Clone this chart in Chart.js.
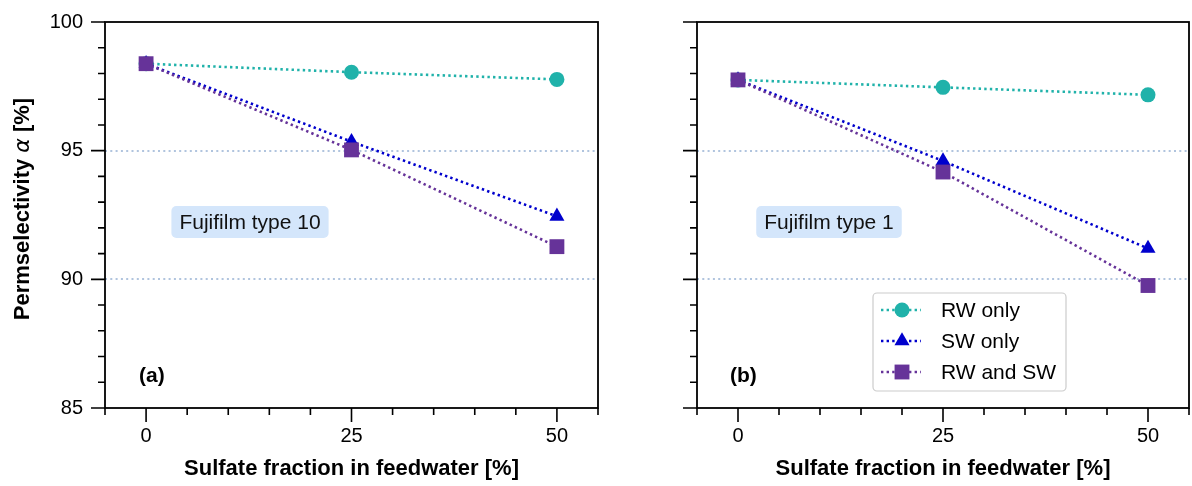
<!DOCTYPE html>
<html>
<head>
<meta charset="utf-8">
<script src="https://cdn.jsdelivr.net/npm/chart.js@4.4.1/dist/chart.umd.min.js"></script>
<style>
  html, body { margin: 0; padding: 0; background: #fff; }
  #wrap { position: relative; width: 1192px; height: 486px; }
  canvas { position: absolute; top: 0; }
  #chartA { left: 0; }
  #chartB { left: 600px; }
</style>
</head>
<body>
<div id="wrap">
  <canvas id="chartA" width="600" height="486"></canvas>
  <canvas id="chartB" width="592" height="486"></canvas>
</div>
<script>
// data
const sulfateFraction = [0, 25, 50];
const xTickLabels = [0, 25, 50];
const yTickLabels = [85, 90, 95, 100];
const refLines = [90, 95];
const seriesNames = ['RW only', 'SW only', 'RW and SW'];

// (a) Fujifilm type 10
const type10RwOnly = [98.38, 98.05, 97.77];
const type10SwOnly = [98.38, 95.35, 92.45];
const type10RwSw = [98.38, 95.03, 91.27];

// (b) Fujifilm type 1
const type1RwOnly = [97.75, 97.46, 97.17];
const type1SwOnly = [97.75, 94.6, 91.2];
const type1RwSw = [97.75, 94.17, 89.76];

const FONT = '"Liberation Sans", Arial, sans-serif';
const colors = ['#20b2aa', '#0000cd', '#663399'];
const markers = ['circle', 'triangle', 'rect'];
const markerRadius = [7.5, 8.7, 10.5];
const dotDash = [2.4, 3.2];

function makeDatasets(series) {
    return series.map(function (vals, i) {
        return {
            label: seriesNames[i],
            data: sulfateFraction.map((x, k) => ({ x: x, y: vals[k] })),
            borderColor: colors[i],
            backgroundColor: colors[i],
            borderWidth: 2.6,
            borderDash: dotDash,
            pointStyle: markers[i],
            pointRadius: markerRadius[i],
            pointBorderWidth: 0,
            pointBackgroundColor: colors[i],
            tension: 0,
            fill: false,
            order: 3 - i
        };
    });
}

function drawMarker(ctx, style, x, y, r) {
    ctx.beginPath();
    if (style === 'circle') {
        ctx.arc(x, y, r, 0, Math.PI * 2);
    } else if (style === 'triangle') {
        ctx.moveTo(x, y - r);
        ctx.lineTo(x + r * Math.sin(Math.PI / 3), y + r / 2);
        ctx.lineTo(x - r * Math.sin(Math.PI / 3), y + r / 2);
        ctx.closePath();
    } else {
        const s = r * Math.SQRT1_2;
        ctx.rect(x - s, y - s, 2 * s, 2 * s);
    }
    ctx.fill();
}

// frame, major/minor ticks, panel letter and note box
const framePlugin = {
    id: 'frame',
    afterDraw(chart, args, opts) {
        const ctx = chart.ctx;
        const a = chart.chartArea;
        const x = chart.scales.x, y = chart.scales.y;
        ctx.save();
        ctx.strokeStyle = '#000';
        ctx.lineWidth = 1.8;
        ctx.strokeRect(a.left, a.top, a.right - a.left, a.bottom - a.top);
        ctx.lineWidth = 1.6;
        ctx.beginPath();
        for (let v = y.min; v <= y.max + 0.001; v += 1) {
            const py = y.getPixelForValue(v);
            const len = v % 5 === 0 ? 14 : 7;
            ctx.moveTo(a.left - len, py);
            ctx.lineTo(a.left, py);
        }
        for (let v = x.min; v <= x.max + 0.001; v += 5) {
            const px = x.getPixelForValue(v);
            const len = v % 25 === 0 ? 14 : 7;
            ctx.moveTo(px, a.bottom);
            ctx.lineTo(px, a.bottom + len);
        }
        ctx.stroke();

        // panel letter
        ctx.fillStyle = '#000';
        ctx.font = 'bold 21px ' + FONT;
        ctx.textBaseline = 'middle';
        ctx.textAlign = 'left';
        ctx.fillText(opts.letter, a.left + opts.letterX, 376);

        // note box
        ctx.font = '21px ' + FONT;
        const w = ctx.measureText(opts.note).width + 16;
        const cx = a.left + opts.noteX;
        ctx.fillStyle = '#d4e6fb';
        ctx.beginPath();
        ctx.roundRect(cx - w / 2, 206, w, 32, 5);
        ctx.fill();
        ctx.fillStyle = '#111';
        ctx.textAlign = 'center';
        ctx.fillText(opts.note, cx, 223);

        if (opts.yTitle) {
            const parts = [
                ['Permselectivity ', 'bold 22px ' + FONT],
                ['\u03b1', 'italic 22px "DejaVu Sans", sans-serif'],
                [' [%]', 'bold 22px ' + FONT]
            ];
            let total = 0;
            parts.forEach(p => { ctx.font = p[1]; total += ctx.measureText(p[0]).width; });
            ctx.translate(23, 209);
            ctx.rotate(-Math.PI / 2);
            ctx.textAlign = 'left';
            ctx.fillStyle = '#000';
            let pos = -total / 2;
            parts.forEach(p => {
                ctx.font = p[1];
                ctx.fillText(p[0], pos, 0);
                pos += ctx.measureText(p[0]).width;
            });
        }
        ctx.restore();
    }
};

// legend inside panel (b)
const legendPlugin = {
    id: 'boxLegend',
    afterDraw(chart, args, opts) {
        if (!opts.show) return;
        const ctx = chart.ctx;
        const a = chart.chartArea;
        const left = a.left + 176, top = 293, w = 193, h = 98;
        ctx.save();
        ctx.fillStyle = 'rgba(255,255,255,0.85)';
        ctx.strokeStyle = '#cccccc';
        ctx.lineWidth = 1.2;
        ctx.beginPath();
        ctx.roundRect(left, top, w, h, 4);
        ctx.fill();
        ctx.stroke();
        chart.data.datasets.forEach(function (ds, i) {
            const ry = top + 17 + i * 31;
            ctx.strokeStyle = ds.borderColor;
            ctx.lineWidth = 2.6;
            ctx.setLineDash(dotDash);
            ctx.beginPath();
            ctx.moveTo(left + 8, ry);
            ctx.lineTo(left + 48, ry);
            ctx.stroke();
            ctx.setLineDash([]);
            ctx.fillStyle = ds.borderColor;
            drawMarker(ctx, ds.pointStyle, left + 29, ry, ds.pointRadius);
            ctx.fillStyle = '#000';
            ctx.font = '21px ' + FONT;
            ctx.textBaseline = 'middle';
            ctx.fillText(ds.label, left + 68, ry + 1);
        });
        ctx.restore();
    }
};

function makeChart(id, series, yWidth, showYLabels, rightPad, panel) {
    return new Chart(document.getElementById(id), {
        type: 'line',
        data: { datasets: makeDatasets(series) },
        options: {
            responsive: false,
            animation: false,
            layout: { autoPadding: false, padding: { top: 22, right: rightPad, left: 0, bottom: 0 } },
            plugins: {
                legend: { display: false },
                tooltip: { enabled: false },
                frame: panel,
                boxLegend: { show: panel.legend }
            },
            scales: {
                x: {
                    type: 'linear',
                    min: -5,
                    max: 55,
                    afterBuildTicks: s => { s.ticks = xTickLabels.map(v => ({ value: v })); },
                    afterFit: s => {
                        s.height = 78;
                        s.paddingLeft = 0; s.paddingRight = 0; s.paddingTop = 0; s.paddingBottom = 0;
                    },
                    grid: { display: false, drawTicks: false },
                    border: { display: false },
                    ticks: { color: '#000', padding: 16, font: { family: FONT, size: 20 } },
                    title: {
                        display: true,
                        text: 'Sulfate fraction in feedwater [%]',
                        color: '#000',
                        padding: { top: 0, bottom: 4 },
                        font: { family: FONT, size: 22, weight: 'bold' }
                    }
                },
                y: {
                    min: 85,
                    max: 100,
                    afterBuildTicks: s => { s.ticks = yTickLabels.map(v => ({ value: v })); },
                    afterFit: s => {
                        s.width = yWidth;
                        s.paddingLeft = 0; s.paddingRight = 0; s.paddingTop = 0; s.paddingBottom = 0;
                    },
                    grid: {
                        drawTicks: false,
                        lineWidth: 2,
                        color: c => refLines.includes(c.tick && c.tick.value) ? '#b0c4de' : 'rgba(0,0,0,0)'
                    },
                    border: { display: false, dash: [2, 3.3] },
                    ticks: { display: showYLabels, color: '#000', padding: 22, font: { family: FONT, size: 20 } }
                }
            }
        },
        plugins: [framePlugin, legendPlugin]
    });
}

makeChart('chartA', [type10RwOnly, type10SwOnly, type10RwSw], 105, true, 2,
    { letter: '(a)', letterX: 34, note: 'Fujifilm type 10', noteX: 145, yTitle: true, legend: false });
makeChart('chartB', [type1RwOnly, type1SwOnly, type1RwSw], 97, false, 3,
    { letter: '(b)', letterX: 33, note: 'Fujifilm type 1', noteX: 132, yTitle: false, legend: true });
</script>
</body>
</html>
